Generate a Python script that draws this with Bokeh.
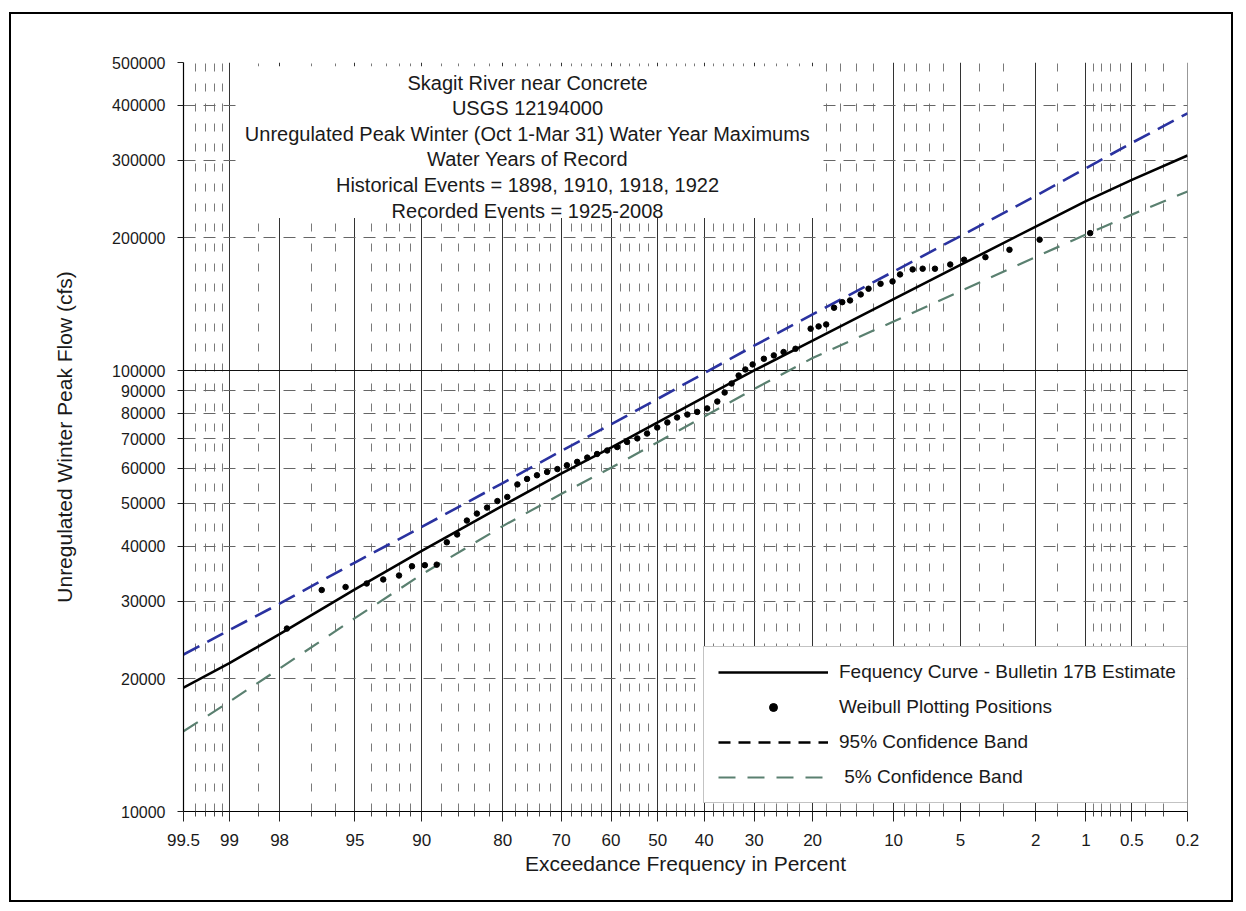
import numpy as np
from statistics import NormalDist
from bokeh.plotting import figure
from bokeh.models import (FixedTicker, NumeralTickFormatter, Range1d, Label, BoxAnnotation,
                          Legend, LegendItem, ColumnDataSource)
from bokeh.embed import file_html
from bokeh.resources import INLINE

# ---------------- data ----------------
tick_pct = [99.5, 99, 98, 95, 90, 80, 70, 60, 50, 40, 30, 20, 10, 5, 2, 1, 0.5, 0.2]
tick_labels = ["99.5", "99", "98", "95", "90", "80", "70", "60", "50", "40", "30", "20",
               "10", "5", "2", "1", "0.5", "0.2"]
minor_pct = [99.4, 99.3, 99.2, 99.1, 98.5, 97, 96, 94, 93, 92, 91, 88, 86, 84, 82, 78, 76, 74, 72,
             68, 66, 64, 62, 58, 56, 54, 52, 48, 46, 44, 42, 38, 36, 34, 32, 28, 26, 24, 22,
             18, 16, 14, 12, 9, 8, 7, 6, 4, 3, 1.5, 0.9, 0.8, 0.7, 0.6, 0.4, 0.3]
y_ticks = [10000, 20000, 30000, 40000, 50000, 60000, 70000, 80000, 90000, 100000,
           200000, 300000, 400000, 500000]
y_grid_solid = [100000]
y_grid_dashed = [20000, 30000, 40000, 50000, 60000, 70000, 80000, 90000,
                 200000, 300000, 400000, 500000]

curve_pct = [99.5, 99, 98, 95, 90, 80, 70, 60, 50, 40, 30, 20, 10, 5, 2, 1, 0.5, 0.2]
curve_cfs = [19100, 21700, 25250, 31900, 39000, 49400, 58400, 66900, 76300, 87100, 100100,
             117000, 145300, 173700, 212200, 242400, 270900, 307600]
upper95_cfs = [22700, 25800, 29600, 36700, 44200, 55600, 65700, 75500, 86300, 98700, 113900,
               134200, 167800, 202000, 249100, 287900, 328600, 383300]
lower5_cfs = [15200, 17750, 21100, 27450, 34500, 44400, 52500, 60200, 68800, 78700, 90900,
              106800, 129300, 151500, 181000, 203700, 225900, 255000]

weibull_pct = [97.8, 96.6, 95.5, 94.3, 93.2, 92.0, 90.9, 89.7, 88.5, 87.4, 86.2, 85.0, 83.7,
               82.3, 80.8, 79.3, 77.7, 76.1, 74.4, 72.6, 70.7, 68.9, 66.9, 64.9, 62.9, 60.8,
               58.7, 56.6, 54.4, 52.3, 50.1, 47.9, 45.8, 43.6, 41.5, 39.4, 37.3, 35.8, 34.4,
               33.0, 31.7, 30.3, 28.2, 26.4, 24.7, 22.7, 20.3, 19.1, 18.0, 16.9, 15.8, 14.8,
               13.5, 12.6, 11.3, 10.1, 9.4, 8.3, 7.5, 6.6, 5.6, 4.8, 3.75, 2.8, 1.9, 0.94]
weibull_cfs = [26000, 31800, 32300, 32900, 33600, 34300, 36000, 36200, 36300, 40800, 42500,
               45700, 47400, 48900, 50600, 51700, 55200, 56800, 57900, 58900, 59800, 61000,
               62100, 63500, 64700, 65900, 67100, 68900, 70200, 72000, 74300, 76300, 78300,
               79500, 80600, 82100, 85100, 89200, 93500, 97500, 100600, 103300, 106400,
               108300, 110200, 112100, 124500, 126000, 127300, 138900, 143000, 144300,
               148900, 153400, 157400, 159400, 165300, 169700, 170300, 170300, 174100,
               178500, 180900, 188000, 198200, 205100]

title_lines = ["Skagit River near Concrete",
               "USGS 12194000",
               "Unregulated Peak Winter (Oct 1-Mar 31) Water Year Maximums",
               "Water Years of Record",
               "Historical Events = 1898, 1910, 1918, 1922",
               "Recorded Events = 1925-2008"]

# ---------------- probability scale ----------------
ND = NormalDist()


def zq(pct):
    """exceedance percent -> standard normal deviate (probability paper axis)"""
    return ND.inv_cdf(1.0 - pct / 100.0)


FONT = "Liberation Sans"
TXT = "#1a1a1a"

p = figure(width=1224, height=890,
           x_range=Range1d(zq(99.5) - 1e-9, zq(0.2) + 1e-9),
           y_range=Range1d(10000, 500000), y_axis_type="log",
           output_backend="svg", toolbar_location=None,
           min_border_left=172, min_border_right=48, min_border_top=48, min_border_bottom=93,
           background_fill_color="white", border_fill_color="white",
           outline_line_color=None)
# outer frame around the whole graphic
p.margin = (12, 0, 0, 9)
p.styles = {"border": "2px solid black"}

# x axis (normal probability)
p.xaxis.ticker = FixedTicker(ticks=[zq(v) for v in tick_pct],
                             minor_ticks=[zq(v) for v in minor_pct])
p.xaxis.major_label_overrides = {zq(v): s for v, s in zip(tick_pct, tick_labels)}
p.xaxis.axis_label = "Exceedance Frequency in Percent"
p.xaxis.major_tick_out = 10
p.xaxis.major_tick_in = 0
p.xaxis.minor_tick_out = 5
p.xaxis.minor_tick_in = 0
p.xaxis.major_label_standoff = 12
p.xaxis.axis_label_standoff = 3
p.xaxis.major_label_text_font_size = "17px"

# y axis (log)
p.yaxis.ticker = FixedTicker(ticks=y_ticks, minor_ticks=[])
p.yaxis.formatter = NumeralTickFormatter(format="0")
p.yaxis.axis_label = "Unregulated Winter Peak Flow (cfs)"
p.yaxis.major_tick_out = 6
p.yaxis.major_tick_in = 0
p.yaxis.minor_tick_out = 0
p.yaxis.minor_tick_in = 0
p.yaxis.major_label_standoff = 12
p.yaxis.axis_label_standoff = 33
p.yaxis.major_label_text_font_size = "16px"

for ax in (p.xaxis, p.yaxis):
    ax.axis_line_color = "black"
    ax.axis_line_width = 1.2
    ax.major_tick_line_color = "#222"
    ax.minor_tick_line_color = "#444"
    ax.major_label_text_font = FONT
    ax.major_label_text_color = TXT
    ax.axis_label_text_font = FONT
    ax.axis_label_text_font_size = "21px"
    ax.axis_label_text_font_style = "normal"
    ax.axis_label_text_color = TXT

# grids: solid at major probabilities, dashed at minor ones
p.xgrid.grid_line_color = "#333333"
p.xgrid.grid_line_width = 1
p.xgrid.minor_grid_line_color = "#7a7a7a"
p.xgrid.minor_grid_line_dash = "8 12"
p.xgrid.minor_grid_line_width = 1

p.ygrid.ticker = FixedTicker(ticks=y_grid_solid, minor_ticks=y_grid_dashed)
p.ygrid.grid_line_color = "#111111"
p.ygrid.grid_line_width = 1.2
p.ygrid.minor_grid_line_color = "#666666"
p.ygrid.minor_grid_line_dash = "12 8"
p.ygrid.minor_grid_line_width = 1

# white panel behind the title block
p.add_layout(BoxAnnotation(left=zq(98.9), right=zq(19), bottom=222000, top=490000,
                           fill_color="white", fill_alpha=1.0, line_color=None))

# ---------------- series ----------------
src_curve = ColumnDataSource(dict(x=[zq(v) for v in curve_pct], y=curve_cfs))
src_up = ColumnDataSource(dict(x=[zq(v) for v in curve_pct], y=upper95_cfs))
src_low = ColumnDataSource(dict(x=[zq(v) for v in curve_pct], y=lower5_cfs))
src_pts = ColumnDataSource(dict(x=[zq(v) for v in weibull_pct], y=weibull_cfs))

r_up = p.line("x", "y", source=src_up, line_color="#2a32a0", line_width=2.6, line_dash="18 9")
r_low = p.line("x", "y", source=src_low, line_color="#5a8070", line_width=2.2, line_dash="17 12")
r_curve = p.line("x", "y", source=src_curve, line_color="black", line_width=2.6)
r_pts = p.scatter("x", "y", source=src_pts, size=5.5, color="black")
# legend key for the 95% band is drawn black in the original (no visible data)
src_key = ColumnDataSource(dict(x=np.array([np.nan, np.nan]), y=np.array([np.nan, np.nan])))
r_up_key = p.line("x", "y", source=src_key, line_color="black", line_width=2.6, line_dash="12 8")

legend = Legend(items=[
    LegendItem(label="Fequency Curve - Bulletin 17B Estimate", renderers=[r_curve]),
    LegendItem(label="Weibull Plotting Positions", renderers=[r_pts]),
    LegendItem(label="95% Confidence Band", renderers=[r_up_key]),
    LegendItem(label=" 5% Confidence Band", renderers=[r_low]),
], location=(520, 8), glyph_width=110, glyph_height=20, label_height=20, spacing=13,
    padding=14, label_standoff=11, label_width=336, margin=0,
    background_fill_color="white", background_fill_alpha=1.0,
    border_line_color="#888888", border_line_width=1,
    label_text_font=FONT, label_text_font_size="19px", label_text_color=TXT)
p.add_layout(legend)

# title block
for i, t in enumerate(title_lines):
    p.add_layout(Label(x=344, y=729 - i * 25.6, x_units="screen", y_units="screen", text=t,
                       text_align="center", text_baseline="middle", text_font=FONT,
                       text_font_size="20px", text_color=TXT))

open("out.html", "w").write(file_html(p, INLINE))
